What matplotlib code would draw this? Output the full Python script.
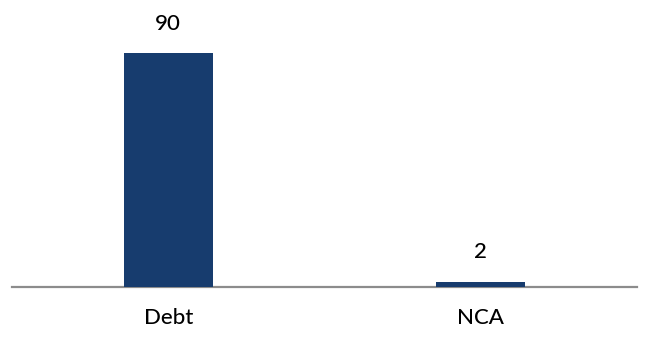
import matplotlib
matplotlib.use("Agg")
import matplotlib.pyplot as plt

categories = ["Debt", "NCA"]
values = [90, 2]
labels = ["90", "2"]

plt.rcParams['font.family'] = ['Lato', 'DejaVu Sans']

fig = plt.figure(figsize=(6.5, 3.52), dpi=100)
ax = fig.add_axes([12/650, 65/352, 625/650, 260/352])

x = list(range(len(categories)))
bars = ax.bar(x, values, width=0.285, color="#173c6e", zorder=2)
ax.set_xlim(-0.5, 1.5)
ax.set_ylim(0, 100)

for xi, v, lab in zip(x, values, labels):
    ax.annotate(lab, (xi, v), xytext=(0, 14), textcoords="offset points",
                ha="center", va="bottom", fontsize=16, color="black",
                fontweight="medium")

ax.set_xticks(x)
ax.set_xticklabels(categories, fontsize=16, color="black", fontweight="medium")
ax.tick_params(axis="x", length=0, pad=15)
ax.set_yticks([])
for s in ["top", "right", "left"]:
    ax.spines[s].set_visible(False)
ax.spines["bottom"].set_color("#8c8c8c")
ax.spines["bottom"].set_linewidth(1.6)
ax.spines["bottom"].set_zorder(1)

fig.savefig("out.png", dpi=100, facecolor="white")
